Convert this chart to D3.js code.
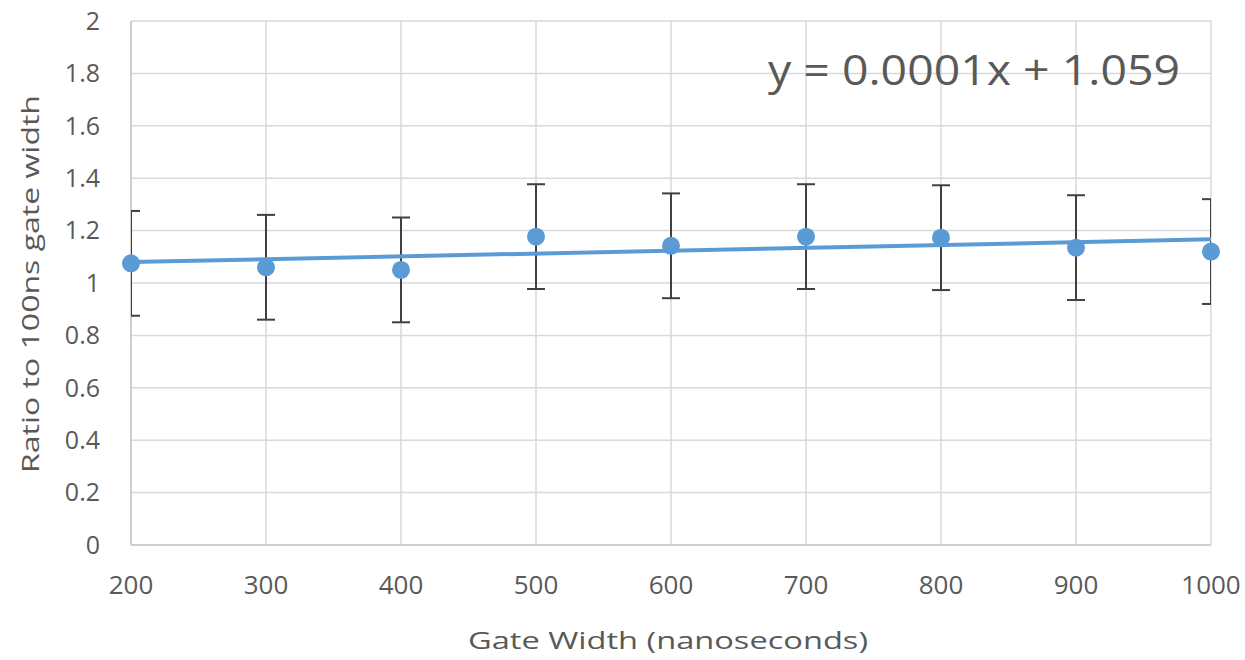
<!DOCTYPE html>
<html>
<head>
<meta charset="utf-8">
<script src="https://cdn.jsdelivr.net/npm/d3@7"></script>
<style>
  body { margin: 0; background: #fff; }
  text { font-family: "Open Sans", "Noto Sans", sans-serif; fill: #595959; }
</style>
</head>
<body>
<svg id="chart"></svg>
<script>
// values
const gateWidths = [200, 300, 400, 500, 600, 700, 800, 900, 1000]
const ratios = [1.075, 1.06, 1.05, 1.177, 1.142, 1.177, 1.173, 1.135, 1.12]
const errors = [0.2, 0.2, 0.2, 0.2, 0.2, 0.2, 0.2, 0.2, 0.2]
const yTicks = [0, 0.2, 0.4, 0.6, 0.8, 1, 1.2, 1.4, 1.6, 1.8, 2]
const equation = "y = 0.0001x + 1.059"

const width = 1245, height = 660
const margin = { top: 21, right: 34, bottom: 115, left: 131 }

const svg = d3.select("#chart").attr("width", width).attr("height", height)

const x = d3.scaleLinear().domain([200, 1000]).range([margin.left, width - margin.right])
const y = d3.scaleLinear().domain([0, 2]).range([height - margin.bottom, margin.top])

const points = gateWidths.map((g, i) => ({ x: g, y: ratios[i], e: errors[i] }))

// clip for error bars (Excel clips them at the plot area)
svg.append("clipPath").attr("id", "plot-clip")
  .append("rect")
  .attr("x", x(200)).attr("y", y(2))
  .attr("width", x(1000) - x(200)).attr("height", y(0) - y(2))

// grid
svg.append("g").selectAll("line.h")
  .data(yTicks)
  .enter().append("line")
  .attr("x1", x(200)).attr("x2", x(1000))
  .attr("y1", d => y(d)).attr("y2", d => y(d))
  .attr("stroke", d => d === 0 ? "#bfbfbf" : "#d9d9d9")
  .attr("stroke-width", 1.5)

svg.append("g").selectAll("line.v")
  .data(gateWidths)
  .enter().append("line")
  .attr("x1", d => x(d)).attr("x2", d => x(d))
  .attr("y1", y(0)).attr("y2", y(2))
  .attr("stroke", d => d === 200 ? "#bfbfbf" : "#d9d9d9")
  .attr("stroke-width", 1.5)

// tick labels
svg.append("g").selectAll("text")
  .data(yTicks)
  .enter().append("text")
  .attr("x", x(200) - 31)
  .attr("y", d => y(d))
  .attr("dy", "0.35em")
  .attr("text-anchor", "end")
  .style("font-size", "25px")
  .text(d => d3.format("")(d))

svg.append("g").selectAll("text")
  .data(gateWidths)
  .enter().append("text")
  .attr("x", d => x(d))
  .attr("y", y(0) + 40)
  .attr("dy", "0.35em")
  .attr("text-anchor", "middle")
  .style("font-size", "26px")
  .text(d => d)

// axis titles
svg.append("text")
  .attr("x", 668)
  .attr("y", 641)
  .attr("dy", "0.35em")
  .attr("text-anchor", "middle")
  .attr("textLength", 400)
  .attr("lengthAdjust", "spacingAndGlyphs")
  .style("font-size", "24px")
  .text("Gate Width (nanoseconds)")

svg.append("text")
  .attr("transform", "translate(31, 284) rotate(-90)")
  .attr("dy", "0.35em")
  .attr("text-anchor", "middle")
  .attr("textLength", 378)
  .attr("lengthAdjust", "spacingAndGlyphs")
  .style("font-size", "24px")
  .text("Ratio to 100ns gate width")

// linear trend line from least squares
const mx = d3.mean(points, d => d.x), my = d3.mean(points, d => d.y)
const slope = d3.sum(points, d => (d.x - mx) * (d.y - my)) / d3.sum(points, d => (d.x - mx) ** 2)
const intercept = my - slope * mx
const trend = [200, 1000].map(v => [v, intercept + slope * v])

// error bars
const bars = svg.append("g").attr("clip-path", "url(#plot-clip)")
  .attr("stroke", "#404040").attr("stroke-width", 2)
bars.selectAll("line.stem")
  .data(points)
  .enter().append("line")
  .attr("x1", d => x(d.x)).attr("x2", d => x(d.x))
  .attr("y1", d => y(d.y - d.e)).attr("y2", d => y(d.y + d.e))
bars.selectAll("line.top")
  .data(points)
  .enter().append("line")
  .attr("x1", d => x(d.x) - 9).attr("x2", d => x(d.x) + 9)
  .attr("y1", d => y(d.y + d.e)).attr("y2", d => y(d.y + d.e))
bars.selectAll("line.bottom")
  .data(points)
  .enter().append("line")
  .attr("x1", d => x(d.x) - 9).attr("x2", d => x(d.x) + 9)
  .attr("y1", d => y(d.y - d.e)).attr("y2", d => y(d.y - d.e))

svg.append("path")
  .datum(trend)
  .attr("d", d3.line().x(d => x(d[0])).y(d => y(d[1])))
  .attr("fill", "none")
  .attr("stroke", "#5b9bd5")
  .attr("stroke-width", 4)

svg.append("g").selectAll("circle")
  .data(points)
  .enter().append("circle")
  .attr("cx", d => x(d.x))
  .attr("cy", d => y(d.y))
  .attr("r", 9)
  .attr("fill", "#5b9bd5")

// trendline equation
svg.append("text")
  .attr("x", 768)
  .attr("y", 70)
  .attr("dy", "0.35em")
  .attr("textLength", 412)
  .attr("lengthAdjust", "spacingAndGlyphs")
  .style("font-size", "42px")
  .text(equation)
</script>
</body>
</html>
